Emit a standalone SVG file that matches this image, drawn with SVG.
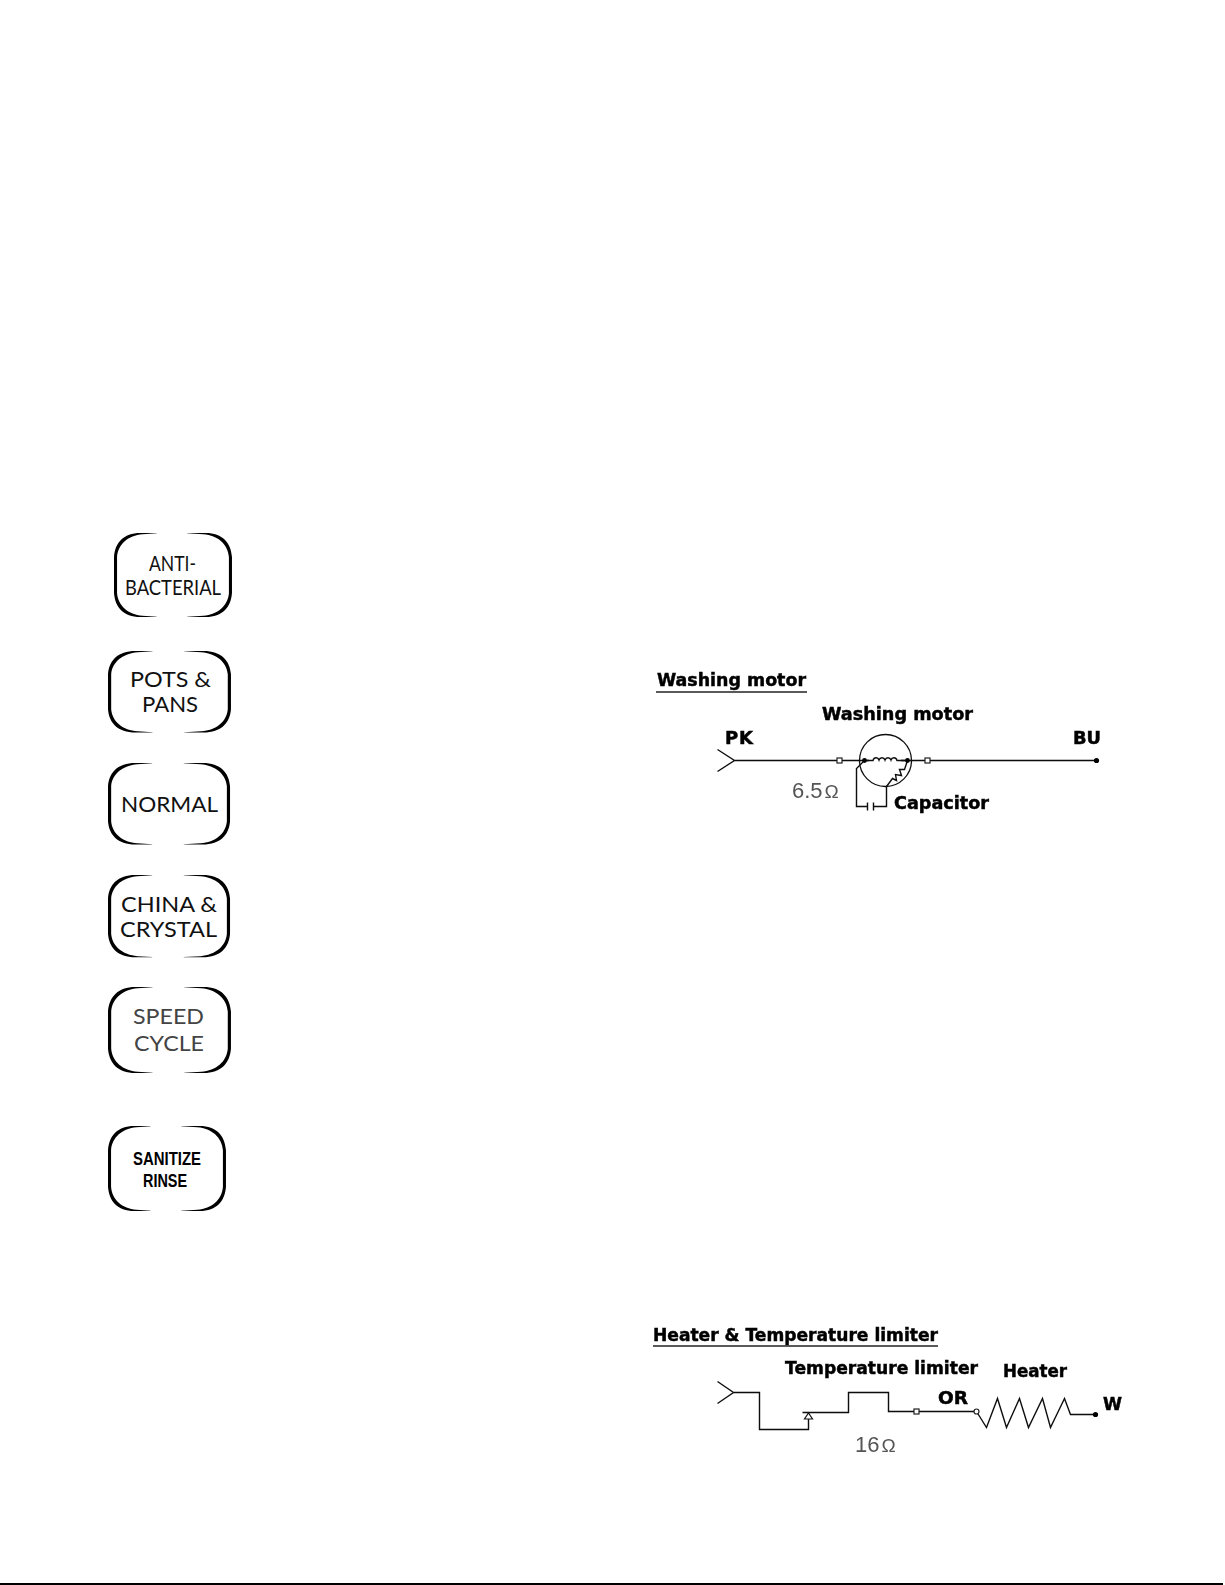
<svg xmlns="http://www.w3.org/2000/svg" xmlns:xlink="http://www.w3.org/1999/xlink" width="1225" height="1585" viewBox="0 0 1225 1585">
<style>
.btn{font-family:Lato,"Open Sans",sans-serif;font-weight:400;font-size:22px;fill:#111}
.grey{fill:#444}
.san{font-family:"Liberation Sans",sans-serif;font-weight:700;font-size:18px;fill:#000}
.lab{font-family:"DejaVu Sans",sans-serif;font-weight:700;font-size:18px;fill:#000;stroke:#000;stroke-width:.5}
.ohm{font-family:"Liberation Sans",sans-serif;font-size:22px;fill:#555}
.w{fill:none;stroke:#111;stroke-width:1.4;stroke-linejoin:miter}
.t{fill:#fff;stroke:#222;stroke-width:1.2}
.d{fill:#000}
.u{stroke:#222;stroke-width:1.6}
.soft{filter:url(#soft)}
</style>
<defs>
<filter id="soft" x="-5%" y="-20%" width="110%" height="140%"><feGaussianBlur stdDeviation=".35"/></filter>
<path id="frame" fill="#000" d="M42,0 L26,0 C9,0 1,10 0,24 L0,60 C1,74 9,84 26,84 L42,84 L42,83.7 L28,82.8 C14,81.5 4,73 3,60 L3,24 C4,11 14,2.5 28,1.2 L42,.3 Z M72,0 L90,0 C107,0 115,10 116,24 L116,60 C115,74 107,84 90,84 L72,84 L72,83.7 L88,82.8 C102,81.5 112,73 113,60 L113,24 C112,11 102,2.5 88,1.2 L72,.3 Z"/>
</defs>
<rect width="1225" height="1585" fill="#fff"/>

<g id="btn-antibacterial"><use xlink:href="#frame" transform="translate(114 533) scale(1.017 1)"/>
<text class="btn" x="149" y="571" textLength="47" lengthAdjust="spacingAndGlyphs">ANTI-</text>
<text class="btn" x="125" y="595" textLength="96" lengthAdjust="spacingAndGlyphs">BACTERIAL</text></g>
<g id="btn-pots"><use xlink:href="#frame" transform="translate(108 651) scale(1.06 .97)"/>
<text class="btn" x="130" y="687" textLength="81" lengthAdjust="spacingAndGlyphs">POTS &amp;</text>
<text class="btn" x="142" y="712" textLength="56" lengthAdjust="spacingAndGlyphs">PANS</text></g>
<g id="btn-normal"><use xlink:href="#frame" transform="translate(108 763) scale(1.052 .97)"/>
<text class="btn" x="121" y="812" textLength="97" lengthAdjust="spacingAndGlyphs">NORMAL</text></g>
<g id="btn-china"><use xlink:href="#frame" transform="translate(108 875) scale(1.052 .98)"/>
<text class="btn" x="121" y="912" textLength="96" lengthAdjust="spacingAndGlyphs">CHINA &amp;</text>
<text class="btn" x="120" y="937" textLength="97" lengthAdjust="spacingAndGlyphs">CRYSTAL</text></g>
<g id="btn-speed"><use xlink:href="#frame" transform="translate(108 987) scale(1.06 1.024)"/>
<text class="btn grey" x="133" y="1024" textLength="71" lengthAdjust="spacingAndGlyphs">SPEED</text>
<text class="btn grey" x="134" y="1051" textLength="70" lengthAdjust="spacingAndGlyphs">CYCLE</text></g>
<g id="btn-sanitize"><use xlink:href="#frame" transform="translate(108 1126) scale(1.017 1.012)"/>
<text class="san" x="133" y="1165" textLength="68" lengthAdjust="spacingAndGlyphs">SANITIZE</text>
<text class="san" x="143" y="1187" textLength="44" lengthAdjust="spacingAndGlyphs">RINSE</text></g>

<g id="connectors" class="soft" transform="translate(.5 .5)">
<path class="w" d="M717,749 L734,760 L717,771 M734,760 H1096"/>
<path class="w" d="M864,760 L856,768 V806 H867 M873,806 H886 V786"/>
<path class="w" d="M867,802 V810 M873,802 V810"/>
<path class="w" d="M886,786 L892,778 L896,780 L895,774 L901,775 L899,769 L904,769 L907,760"/>
<path class="w" d="M717,1381 L733,1392 L717,1403 M733,1392 H759 V1429 H808 V1412 M802,1412 H848 V1392 H888 V1411 H974"/>
<path class="w" d="M976,1411 L986,1427 L997,1398 L1006,1427 L1019,1398 L1028,1427 L1042,1398 L1050,1427 L1064,1398 L1070,1414 H1095"/>
</g>

<g id="washing-motor-section" class="soft">
<text class="lab" x="657" y="686" textLength="149" lengthAdjust="spacingAndGlyphs">Washing motor</text>
<line class="u" x1="656" y1="692" x2="807" y2="692"/>
</g>
<g id="washing-motor" class="soft">
<text class="lab" x="822" y="720" textLength="151" lengthAdjust="spacingAndGlyphs">Washing motor</text>
<circle cx="885.5" cy="760.5" r="26" fill="none" stroke="#111" stroke-width="1.3"/>
<path fill="#fff" d="M869,758 H901 V763 H869 Z"/>
<path class="w" d="M864,760.5 H873 C874,757 878,757 879,760 C880,757 884,757 885,760 C886,757 890,757 891,760 C892,757 896,757 897,760.5 H907"/>
<circle class="d" cx="864.5" cy="760.5" r="2.4"/><circle class="d" cx="907.5" cy="760.5" r="2.4"/>
</g>
<g id="pk-label" class="soft"><text class="lab" x="725" y="744" textLength="28" lengthAdjust="spacing">PK</text></g>
<g id="bu-terminal" class="soft"><text class="lab" x="1073" y="744" textLength="28" lengthAdjust="spacingAndGlyphs">BU</text><circle class="d" cx="1096.5" cy="760.5" r="2.6"/></g>
<g id="terminals-motor" class="soft"><rect class="t" x="837" y="758" width="5" height="5"/><rect class="t" x="925" y="758" width="5" height="5"/></g>
<g id="resistance-motor" class="soft"><text class="ohm" x="792" y="798">6.5<tspan font-size="19" dx="2">Ω</tspan></text></g>
<g id="capacitor" class="soft"><text class="lab" x="894" y="809" textLength="95" lengthAdjust="spacingAndGlyphs">Capacitor</text></g>

<g id="heater-section" class="soft">
<text class="lab" x="653" y="1341" textLength="285" lengthAdjust="spacingAndGlyphs">Heater &amp; Temperature limiter</text>
<line class="u" x1="653" y1="1346" x2="938" y2="1346"/>
</g>
<g id="temperature-limiter" class="soft">
<text class="lab" x="785" y="1374" textLength="193" lengthAdjust="spacingAndGlyphs">Temperature limiter</text>
<path fill="#fff" stroke="#111" stroke-width="1.2" d="M808.5,1413 L812.5,1419 H804.5 Z"/>
</g>
<g id="heater" class="soft">
<text class="lab" x="1003" y="1377" textLength="64" lengthAdjust="spacingAndGlyphs">Heater</text>
<circle class="t" cx="976.5" cy="1411.5" r="2.5"/>
</g>
<g id="or-label" class="soft"><text class="lab" x="938" y="1404" textLength="30" lengthAdjust="spacingAndGlyphs">OR</text><rect class="t" x="914" y="1409" width="5" height="5"/></g>
<g id="w-terminal" class="soft"><text class="lab" x="1103" y="1410" textLength="19" lengthAdjust="spacingAndGlyphs">W</text><circle class="d" cx="1095.5" cy="1414.5" r="2.6"/></g>
<g id="resistance-heater" class="soft"><text class="ohm" x="855" y="1452">16<tspan font-size="19" dx="2">Ω</tspan></text></g>

<rect id="bottom-rule" x="0" y="1583" width="1223" height="2" fill="#000"/>
</svg>
